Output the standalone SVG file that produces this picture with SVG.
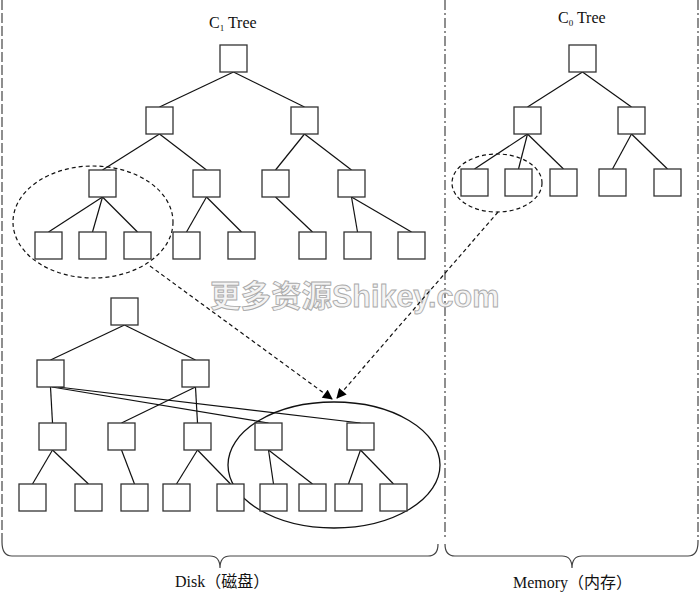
<svg xmlns="http://www.w3.org/2000/svg" width="700" height="593" viewBox="0 0 700 593">
<style>
.n rect{fill:#fff;stroke:#333;stroke-width:1.3}
.e line{stroke:#111;stroke-width:1.2}
.lbl{font-family:"Liberation Serif","Noto Sans CJK SC",serif;font-size:16px;fill:#111}
.sep{fill:none;stroke:#444;stroke-width:1.2}
.dash{fill:none;stroke:#111;stroke-width:1.2;stroke-dasharray:4,3}
</style>
<defs>
<marker id="ah" viewBox="0 0 10 10" refX="9" refY="5" markerWidth="12" markerHeight="10" markerUnits="userSpaceOnUse" orient="auto">
<path d="M0,0 L10,5 L0,10 z" fill="#000"/>
</marker>
</defs>
<rect width="700" height="593" fill="#fff"/>
<!-- separators -->
<g id="separators">
<line class="sep" x1="2" y1="0" x2="2" y2="542" stroke-dasharray="10,3"/>
<line class="sep" x1="445" y1="0" x2="445" y2="540" stroke-dasharray="10,3,2,3"/>
<line class="sep" x1="698" y1="0" x2="698" y2="542" stroke-dasharray="10,3,2,3"/>
<path class="sep" stroke="#333" d="M2,542 Q2,556 12,556 L210,556 Q220,556 220,568 Q220,556 230,556 L428,556 Q438,556 438,544"/>
<path class="sep" stroke="#333" d="M445,544 Q445,556 455,556 L562,556 Q572,556 572,568 Q572,556 582,556 L688,556 Q698,556 698,542"/>
</g>
<!-- labels -->
<text class="lbl" x="209" y="28">C<tspan font-size="9" dy="3">1</tspan><tspan dy="-3"> Tree</tspan></text>
<text class="lbl" x="558" y="23">C<tspan font-size="9" dy="3">0</tspan><tspan dy="-3"> Tree</tspan></text>
<text class="lbl" x="175" y="587">Disk（磁盘）</text>
<text class="lbl" x="513" y="588">Memory（内存）</text>
<!-- watermark -->
<text x="210" y="307" font-family="'Liberation Sans','Noto Sans CJK SC',sans-serif" font-size="30.5" font-weight="bold" fill="#f4f4f4" stroke="#aaa" stroke-width="0.9">更多资源Shikey.com</text>
<!-- connectors -->
<g id="connectors" class="e">
<!-- C1 upper -->
<line x1="233.5" y1="72" x2="159.5" y2="107"/>
<line x1="233.5" y1="72" x2="304.5" y2="107"/>
<line x1="159.5" y1="134" x2="102.5" y2="170"/>
<line x1="159.5" y1="134" x2="206.5" y2="170"/>
<line x1="304.5" y1="134" x2="275.5" y2="170"/>
<line x1="304.5" y1="134" x2="351.5" y2="170"/>
<line x1="102.5" y1="197" x2="48.5" y2="232"/>
<line x1="102.5" y1="197" x2="92.5" y2="232"/>
<line x1="102.5" y1="197" x2="137.5" y2="232"/>
<line x1="206.5" y1="197" x2="186.5" y2="232"/>
<line x1="206.5" y1="197" x2="241.5" y2="232"/>
<line x1="275.5" y1="197" x2="312.5" y2="232"/>
<line x1="351.5" y1="197" x2="357.5" y2="232"/>
<line x1="351.5" y1="197" x2="411.5" y2="232"/>
<!-- C1 lower -->
<line x1="124.5" y1="325" x2="50.5" y2="360"/>
<line x1="124.5" y1="325" x2="195.5" y2="360"/>
<line x1="50.5" y1="387" x2="52.5" y2="423"/>
<line x1="52" y1="387" x2="268.5" y2="423"/>
<line x1="58" y1="387" x2="360.5" y2="423"/>
<line x1="195.5" y1="387" x2="121.5" y2="423"/>
<line x1="195.5" y1="387" x2="197.5" y2="423"/>
<line x1="52.5" y1="450" x2="32.5" y2="484"/>
<line x1="52.5" y1="450" x2="88.5" y2="484"/>
<line x1="121.5" y1="450" x2="134.5" y2="484"/>
<line x1="197.5" y1="450" x2="176.5" y2="484"/>
<line x1="197.5" y1="450" x2="230.5" y2="484"/>
<line x1="268.5" y1="450" x2="273.5" y2="484"/>
<line x1="268.5" y1="450" x2="312.5" y2="484"/>
<line x1="360.5" y1="450" x2="348.5" y2="484"/>
<line x1="360.5" y1="450" x2="393.5" y2="484"/>
<!-- C0 -->
<line x1="582.5" y1="72" x2="527.5" y2="107"/>
<line x1="582.5" y1="72" x2="631.5" y2="107"/>
<line x1="527.5" y1="134" x2="474.5" y2="169"/>
<line x1="527.5" y1="134" x2="518.5" y2="169"/>
<line x1="527.5" y1="134" x2="563.5" y2="169"/>
<line x1="631.5" y1="134" x2="612.5" y2="169"/>
<line x1="631.5" y1="134" x2="667.5" y2="169"/>
<!-- groupings and merge arrows -->
<ellipse class="dash" cx="93" cy="222" rx="80" ry="56"/>
<ellipse class="dash" cx="497" cy="183" rx="45" ry="29"/>
<ellipse cx="334" cy="465" rx="106" ry="63" fill="none" stroke="#111" stroke-width="1.3"/>
<line class="dash" x1="150" y1="266" x2="332" y2="399" marker-end="url(#ah)"/>
<line class="dash" x1="498" y1="212" x2="337" y2="398" marker-end="url(#ah)"/>
</g>
<!-- nodes -->
<g class="n">
<g id="a0"><rect x="220" y="45" width="27" height="27"/></g>
<g id="a1"><rect x="146" y="107" width="27" height="27"/></g>
<g id="a2"><rect x="291" y="107" width="27" height="27"/></g>
<g id="a3"><rect x="89" y="170" width="27" height="27"/></g>
<g id="a4"><rect x="193" y="170" width="27" height="27"/></g>
<g id="a5"><rect x="262" y="170" width="27" height="27"/></g>
<g id="a6"><rect x="338" y="170" width="27" height="27"/></g>
<g id="a7"><rect x="35" y="232" width="27" height="27"/></g>
<g id="a8"><rect x="79" y="232" width="27" height="27"/></g>
<g id="a9"><rect x="124" y="232" width="27" height="27"/></g>
<g id="a10"><rect x="173" y="232" width="27" height="27"/></g>
<g id="a11"><rect x="228" y="232" width="27" height="27"/></g>
<g id="a12"><rect x="299" y="232" width="27" height="27"/></g>
<g id="a13"><rect x="344" y="232" width="27" height="27"/></g>
<g id="a14"><rect x="398" y="232" width="27" height="27"/></g>
<g id="b0"><rect x="111" y="298" width="27" height="27"/></g>
<g id="b1"><rect x="37" y="360" width="27" height="27"/></g>
<g id="b2"><rect x="182" y="360" width="27" height="27"/></g>
<g id="b3"><rect x="39" y="423" width="27" height="27"/></g>
<g id="b4"><rect x="108" y="423" width="27" height="27"/></g>
<g id="b5"><rect x="184" y="423" width="27" height="27"/></g>
<g id="b6"><rect x="255" y="423" width="27" height="27"/></g>
<g id="b7"><rect x="347" y="423" width="27" height="27"/></g>
<g id="b8"><rect x="19" y="484" width="27" height="27"/></g>
<g id="b9"><rect x="75" y="484" width="27" height="27"/></g>
<g id="b10"><rect x="121" y="484" width="27" height="27"/></g>
<g id="b11"><rect x="163" y="484" width="27" height="27"/></g>
<g id="b12"><rect x="217" y="484" width="27" height="27"/></g>
<g id="b13"><rect x="260" y="484" width="27" height="27"/></g>
<g id="b14"><rect x="299" y="484" width="27" height="27"/></g>
<g id="b15"><rect x="335" y="484" width="27" height="27"/></g>
<g id="b16"><rect x="380" y="484" width="27" height="27"/></g>
<g id="c0"><rect x="569" y="45" width="27" height="27"/></g>
<g id="c1"><rect x="514" y="107" width="27" height="27"/></g>
<g id="c2"><rect x="618" y="107" width="27" height="27"/></g>
<g id="c3"><rect x="461" y="169" width="27" height="27"/></g>
<g id="c4"><rect x="505" y="169" width="27" height="27"/></g>
<g id="c5"><rect x="550" y="169" width="27" height="27"/></g>
<g id="c6"><rect x="599" y="169" width="27" height="27"/></g>
<g id="c7"><rect x="654" y="169" width="27" height="27"/></g>
</g>
</svg>
